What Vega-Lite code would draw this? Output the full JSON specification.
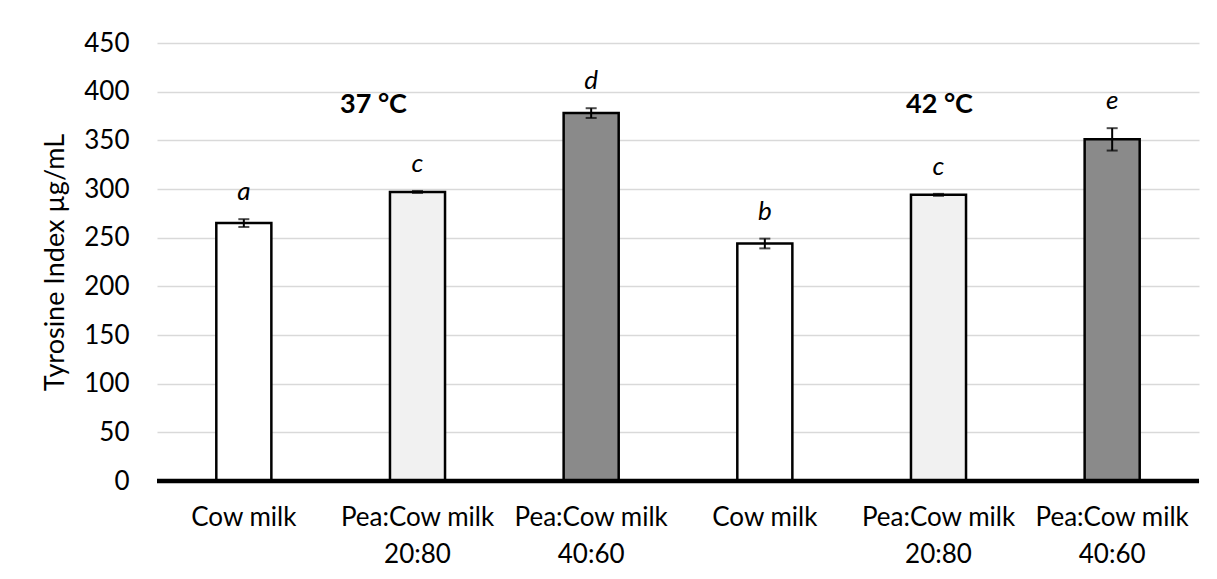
{
  "$schema": "https://vega.github.io/schema/vega-lite/v6.json",
  "width": 1042,
  "height": 438,
  "autosize": {"type": "none"},
  "padding": {"left": 157, "top": 43, "right": 18, "bottom": 98},
  "background": "white",
  "config": {
    "view": {"stroke": null},
    "font": "Lato",
    "axis": {"labelFont": "Lato", "titleFont": "Lato", "labelColor": "#000000", "titleColor": "#000000"}
  },
  "datasets": {
    "bars": [
      {"key": "37|Cow milk", "sample": "Cow milk", "value": 265, "lo": 261, "hi": 269, "letter": "a"},
      {"key": "37|Pea:Cow milk|20:80", "sample": "Pea:Cow milk 20:80", "value": 297, "lo": 296, "hi": 298, "letter": "c"},
      {"key": "37|Pea:Cow milk|40:60", "sample": "Pea:Cow milk 40:60", "value": 378, "lo": 373, "hi": 383, "letter": "d"},
      {"key": "42|Cow milk", "sample": "Cow milk", "value": 244, "lo": 239, "hi": 249, "letter": "b"},
      {"key": "42|Pea:Cow milk|20:80", "sample": "Pea:Cow milk 20:80", "value": 294, "lo": 293, "hi": 295, "letter": "c"},
      {"key": "42|Pea:Cow milk|40:60", "sample": "Pea:Cow milk 40:60", "value": 351, "lo": 339.5, "hi": 362.5, "letter": "e"}
    ],
    "notes": [
      {"key": "37|Pea:Cow milk|20:80", "y": 386, "label": "37 °C", "shift": "left"},
      {"key": "42|Pea:Cow milk|20:80", "y": 386, "label": "42 °C", "shift": "none"}
    ],
    "zero": [{"v": 0}]
  },
  "layer": [
    {
      "encoding": {
        "x": {
          "field": "key",
          "type": "nominal",
          "sort": null,
          "scale": {
            "domain": ["37|Cow milk", "37|Pea:Cow milk|20:80", "37|Pea:Cow milk|40:60", "42|Cow milk", "42|Pea:Cow milk|20:80", "42|Pea:Cow milk|40:60"],
            "paddingInner": 0.683,
            "paddingOuter": 0.3415
          },
          "axis": {
            "title": null,
            "domain": false,
            "ticks": false,
            "labelAngle": 0,
            "labelFontSize": 26,
            "labelPadding": 23,
            "labelLineHeight": 37,
            "labelBaseline": "top",
            "labelExpr": "slice(split(datum.value, '|'), 1)"
          }
        }
      },
      "layer": [
        {
          "data": {"name": "bars"},
          "mark": {"type": "bar", "stroke": "#000000", "strokeWidth": 2.5},
          "encoding": {
            "y": {
              "field": "value",
              "type": "quantitative",
              "scale": {"domain": [0, 450], "nice": false},
              "axis": {
                "title": "Tyrosine Index µg/mL",
                "titleFontSize": 27,
                "titleFontWeight": "normal",
                "titlePadding": 14,
                "values": [0, 50, 100, 150, 200, 250, 300, 350, 400, 450],
                "domain": false,
                "ticks": false,
                "labelFontSize": 26,
                "labelPadding": 28,
                "gridColor": "#d9d9d9",
                "gridWidth": 1.5
              }
            },
            "color": {
              "field": "sample",
              "type": "nominal",
              "scale": {"domain": ["Cow milk", "Pea:Cow milk 20:80", "Pea:Cow milk 40:60"], "range": ["#ffffff", "#f1f1f1", "#8a8a8a"]},
              "legend": null
            }
          }
        },
        {
          "data": {"name": "bars"},
          "mark": {"type": "rule", "color": "#000000", "strokeWidth": 2},
          "encoding": {
            "y": {"field": "lo", "type": "quantitative"},
            "y2": {"field": "hi"}
          }
        },
        {
          "data": {"name": "bars"},
          "mark": {"type": "tick", "color": "#000000", "size": 11, "thickness": 2},
          "encoding": {"y": {"field": "lo", "type": "quantitative"}}
        },
        {
          "data": {"name": "bars"},
          "mark": {"type": "tick", "color": "#000000", "size": 11, "thickness": 2},
          "encoding": {"y": {"field": "hi", "type": "quantitative"}}
        },
        {
          "data": {"name": "bars"},
          "mark": {"type": "text", "fontSize": 26, "fontStyle": "italic", "baseline": "alphabetic", "dy": -19, "color": "#000000"},
          "encoding": {
            "y": {"field": "hi", "type": "quantitative"},
            "text": {"field": "letter"}
          }
        },
        {
          "data": {"name": "notes"},
          "transform": [{"filter": "datum.shift == 'left'"}],
          "mark": {"type": "text", "fontSize": 27, "fontWeight": "bold", "baseline": "middle", "dx": -44, "color": "#000000"},
          "encoding": {
            "y": {"field": "y", "type": "quantitative"},
            "text": {"field": "label"}
          }
        },
        {
          "data": {"name": "notes"},
          "transform": [{"filter": "datum.shift == 'none'"}],
          "mark": {"type": "text", "fontSize": 27, "fontWeight": "bold", "baseline": "middle", "dx": 1, "color": "#000000"},
          "encoding": {
            "y": {"field": "y", "type": "quantitative"},
            "text": {"field": "label"}
          }
        }
      ]
    },
    {
      "data": {"name": "zero"},
      "mark": {"type": "rule", "color": "#000000", "strokeWidth": 4.5},
      "encoding": {"y": {"field": "v", "type": "quantitative"}}
    }
  ]
}
